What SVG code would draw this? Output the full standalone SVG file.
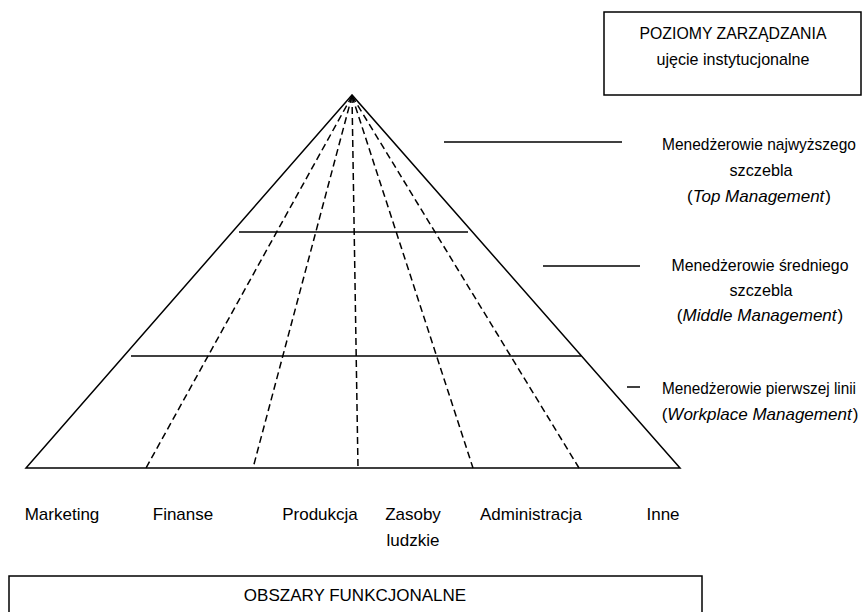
<svg xmlns="http://www.w3.org/2000/svg" width="864" height="612" viewBox="0 0 864 612">
<style>
.t{font-family:"Liberation Sans",Arial,sans-serif;font-size:17px;fill:#000;text-anchor:middle}
.s{stroke:#000;stroke-width:1.5;fill:none}
.d{stroke:#000;stroke-width:1.5;fill:none;stroke-dasharray:7 4}
.b{stroke:#000;stroke-width:1.5;fill:#fff}
.i{font-style:italic}
</style>
<rect width="864" height="612" fill="#fff"/>
<g id="connectors">
<line class="d" x1="352" y1="96" x2="146" y2="468"/>
<line class="d" x1="352" y1="96" x2="253" y2="468"/>
<line class="d" x1="352" y1="96" x2="358" y2="468"/>
<line class="d" x1="352" y1="96" x2="473" y2="468"/>
<line class="d" x1="352" y1="96" x2="579" y2="468"/>
<line class="s" x1="239" y1="232" x2="468" y2="232"/>
<line class="s" x1="131" y1="356" x2="581" y2="356"/>
<line class="s" x1="444" y1="142" x2="622" y2="142"/>
<line class="s" x1="543" y1="266" x2="640" y2="266"/>
<line class="s" x1="627" y1="387" x2="640" y2="387"/>
</g>
<g id="pyramid">
<polygon class="s" points="352,95 26,468 680,468"/>
</g>
<g id="poziomy">
<rect class="b" x="604" y="12" width="257" height="83"/>
<text class="t" x="733" y="39" textLength="187" lengthAdjust="spacingAndGlyphs">POZIOMY ZARZĄDZANIA</text>
<text class="t" x="733" y="65" textLength="153" lengthAdjust="spacingAndGlyphs">ujęcie instytucjonalne</text>
</g>
<g id="top-management">
<text class="t" x="759" y="150" font-size="15.5" textLength="194" lengthAdjust="spacingAndGlyphs">Menedżerowie najwyższego</text>
<text class="t" x="761" y="176" textLength="63" lengthAdjust="spacingAndGlyphs">szczebla</text>
<text class="t" x="759" y="202" font-size="16.5">(<tspan class="i">Top Management</tspan><tspan dx="1">)</tspan></text>
</g>
<g id="middle-management">
<text class="t" x="760" y="271" textLength="177" lengthAdjust="spacingAndGlyphs">Menedżerowie średniego</text>
<text class="t" x="761" y="296" textLength="63" lengthAdjust="spacingAndGlyphs">szczebla</text>
<text class="t" x="760" y="321" font-size="16">(<tspan class="i">Middle Management</tspan><tspan dx="1">)</tspan></text>
</g>
<g id="workplace-management">
<text class="t" x="759" y="394" font-size="15.5" textLength="194" lengthAdjust="spacingAndGlyphs">Menedżerowie pierwszej linii</text>
<text class="t" x="760" y="420" font-size="16">(<tspan class="i">Workplace Management</tspan><tspan dx="1">)</tspan></text>
</g>
<g id="areas">
<text class="t" x="62" y="520">Marketing</text>
<text class="t" x="183" y="520">Finanse</text>
<text class="t" x="320" y="520">Produkcja</text>
<text class="t" x="413" y="520">Zasoby</text>
<text class="t" x="413" y="546">ludzkie</text>
<text class="t" x="531" y="520">Administracja</text>
<text class="t" x="663" y="520">Inne</text>
</g>
<g id="obszary">
<rect class="b" x="9" y="576" width="693" height="60"/>
<text class="t" x="355" y="601">OBSZARY FUNKCJONALNE</text>
</g>
</svg>
